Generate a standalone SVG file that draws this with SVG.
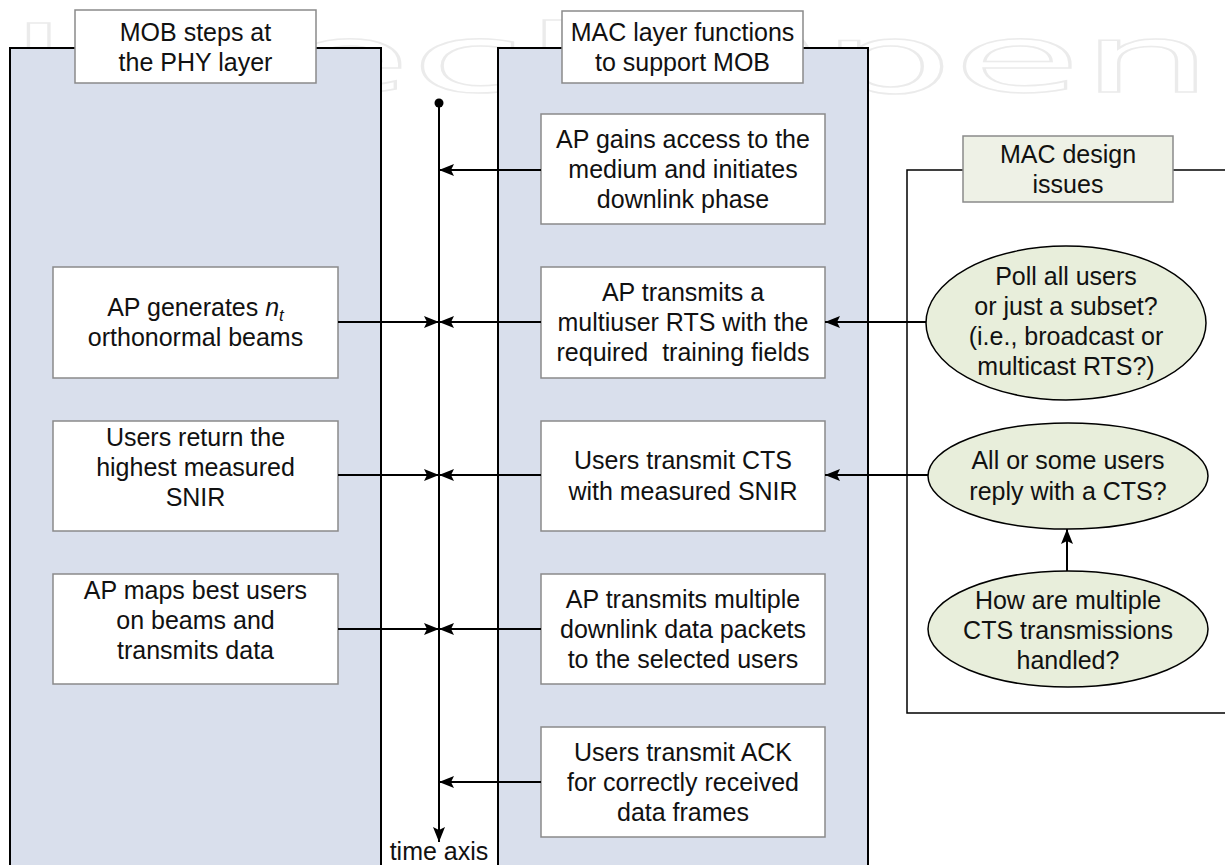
<svg xmlns="http://www.w3.org/2000/svg" width="1225" height="865" viewBox="0 0 1225 865">
<style>
.t{font-family:"Liberation Sans",Arial,Helvetica,sans-serif;font-size:25px;fill:#111;text-anchor:middle}
.panel{fill:#d9dfec;stroke:#000;stroke-width:2}
.title{fill:#fff;stroke:#8a8a8a;stroke-width:1.5}
.box{fill:#fff;stroke:#8a8a8a;stroke-width:1.5}
.ell{fill:#e8eedb;stroke:#000;stroke-width:1.5}
.c{fill:none;stroke:#000;stroke-width:2}
.wm{font-family:"DejaVu Sans",sans-serif;font-size:95px;fill:none;stroke:#ebebeb;stroke-width:1.5}
</style>
<defs>
<marker id="ah" viewBox="0 0 15 12" refX="15" refY="6" markerWidth="15" markerHeight="12" orient="auto" markerUnits="userSpaceOnUse">
<path d="M0,0 L15,6 L0,12 L3,6 z" fill="#000"/>
</marker>
</defs>
<rect width="1225" height="865" fill="#fff"/>
<text class="wm" x="8" y="92" textLength="1205" lengthAdjust="spacingAndGlyphs">IntechOpen</text>

<g id="panel-phy">
<rect class="panel" x="10" y="48" width="371" height="840"/>
<rect class="title" x="75" y="10" width="241" height="73"/>
<text class="t" x="195.5" y="41">MOB steps at</text>
<text class="t" x="195.5" y="71">the PHY layer</text>
</g>
<g id="panel-mac">
<rect class="panel" x="498" y="48" width="370" height="840"/>
<rect class="title" x="562" y="11" width="241" height="72"/>
<text class="t" x="682.5" y="41">MAC layer functions</text>
<text class="t" x="682.5" y="71">to support MOB</text>
</g>
<g id="panel-issues">
<polyline points="963,170 907,170 907,713 1225,713" fill="none" stroke="#000" stroke-width="1.5"/>
<line x1="1173" y1="170" x2="1225" y2="170" stroke="#000" stroke-width="1.5"/>
<rect x="963" y="136" width="210" height="66" fill="#eef1e6" stroke="#8a8a8a" stroke-width="1.5"/>
<text class="t" x="1068" y="163">MAC design</text>
<text class="t" x="1068" y="193">issues</text>
</g>

<g id="phy1">
<rect class="box" x="53" y="267" width="285" height="111"/>
<text class="t" x="195.5" y="316">AP generates <tspan font-style="italic">n</tspan><tspan font-style="italic" font-size="17" dy="5">t</tspan></text>
<text class="t" x="195.5" y="346">orthonormal beams</text>
</g>
<g id="phy2">
<rect class="box" x="53" y="421" width="285" height="110"/>
<text class="t" x="195.5" y="446">Users return the</text>
<text class="t" x="195.5" y="476">highest measured</text>
<text class="t" x="195.5" y="506">SNIR</text>
</g>
<g id="phy3">
<rect class="box" x="53" y="574" width="285" height="110"/>
<text class="t" x="195.5" y="599">AP maps best users</text>
<text class="t" x="195.5" y="629">on beams and</text>
<text class="t" x="195.5" y="659">transmits data</text>
</g>

<g id="mac1">
<rect class="box" x="541" y="114" width="284" height="110"/>
<text class="t" x="683" y="148">AP gains access to the</text>
<text class="t" x="683" y="178">medium and initiates</text>
<text class="t" x="683" y="208">downlink phase</text>
</g>
<g id="mac2">
<rect class="box" x="541" y="267" width="284" height="111"/>
<text class="t" x="683" y="301">AP transmits a</text>
<text class="t" x="683" y="331">multiuser RTS with the</text>
<text class="t" x="683" y="361" xml:space="preserve">required  training fields</text>
</g>
<g id="mac3">
<rect class="box" x="541" y="421" width="284" height="110"/>
<text class="t" x="683" y="469">Users transmit CTS</text>
<text class="t" x="683" y="500">with measured SNIR</text>
</g>
<g id="mac4">
<rect class="box" x="541" y="574" width="284" height="110"/>
<text class="t" x="683" y="608">AP transmits multiple</text>
<text class="t" x="683" y="638">downlink data packets</text>
<text class="t" x="683" y="668">to the selected users</text>
</g>
<g id="mac5">
<rect class="box" x="541" y="727" width="284" height="110"/>
<text class="t" x="683" y="761">Users transmit ACK</text>
<text class="t" x="683" y="791">for correctly received</text>
<text class="t" x="683" y="821">data frames</text>
</g>

<g id="issue1">
<ellipse class="ell" cx="1066" cy="323" rx="140" ry="77"/>
<text class="t" x="1066" y="285">Poll all users</text>
<text class="t" x="1066" y="315">or just a subset?</text>
<text class="t" x="1066" y="345">(i.e., broadcast or</text>
<text class="t" x="1066" y="375">multicast RTS?)</text>
</g>
<g id="issue2">
<ellipse class="ell" cx="1068" cy="476" rx="140" ry="53"/>
<text class="t" x="1068" y="469">All or some users</text>
<text class="t" x="1068" y="500">reply with a CTS?</text>
</g>
<g id="issue3">
<ellipse class="ell" cx="1068" cy="629" rx="140" ry="58"/>
<text class="t" x="1068" y="609">How are multiple</text>
<text class="t" x="1068" y="639">CTS transmissions</text>
<text class="t" x="1068" y="669">handled?</text>
</g>

<g id="timeaxis">
<circle cx="439" cy="103" r="4.5" fill="#000"/>
<line class="c" x1="439" y1="103" x2="439" y2="842" marker-end="url(#ah)"/>
<text class="t" x="439" y="860">time axis</text>
</g>

<g id="connectors">
<line class="c" x1="541" y1="170" x2="439" y2="170" marker-end="url(#ah)"/>
<line class="c" x1="338" y1="322" x2="439" y2="322" marker-end="url(#ah)"/>
<line class="c" x1="541" y1="322" x2="439" y2="322" marker-end="url(#ah)"/>
<line class="c" x1="338" y1="475" x2="439" y2="475" marker-end="url(#ah)"/>
<line class="c" x1="541" y1="475" x2="439" y2="475" marker-end="url(#ah)"/>
<line class="c" x1="338" y1="629" x2="439" y2="629" marker-end="url(#ah)"/>
<line class="c" x1="541" y1="629" x2="439" y2="629" marker-end="url(#ah)"/>
<line class="c" x1="541" y1="782" x2="439" y2="782" marker-end="url(#ah)"/>
<line class="c" x1="926" y1="322" x2="825" y2="322" marker-end="url(#ah)"/>
<line class="c" x1="928" y1="475" x2="825" y2="475" marker-end="url(#ah)"/>
<line class="c" x1="1067" y1="571" x2="1067" y2="529" marker-end="url(#ah)"/>
</g>
</svg>
